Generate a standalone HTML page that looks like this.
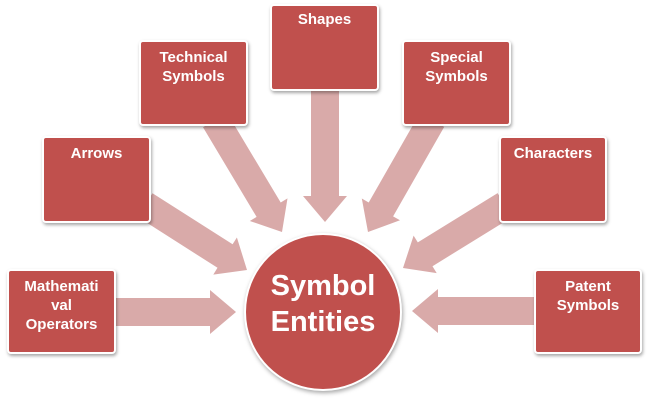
<!DOCTYPE html>
<html><head><meta charset="utf-8"><style>
body{margin:0;width:650px;height:402px;background:#fff;overflow:hidden;position:relative;font-family:"Liberation Sans",sans-serif}
.b{position:absolute;background:#c0504d;border:2px solid #fff;border-radius:4px;box-shadow:1px 2px 3px rgba(0,0,0,.35);color:#fff;font-weight:bold;font-size:15px;text-align:center;line-height:19px;box-sizing:border-box;padding-top:6px}
svg{position:absolute;left:0;top:0}
.c{position:absolute;left:244px;top:233px;width:158px;height:158px;border-radius:50%;background:#c0504d;border:2px solid #fff;box-shadow:1px 2px 4px rgba(0,0,0,.35);box-sizing:border-box;color:#fff;font-weight:bold;font-size:29px;line-height:36px;text-align:center;padding-top:33px}
</style></head><body>
<svg id="s" width="650" height="402"></svg>
<div class="b" style="left:7px;top:269px;width:109px;height:85px">Mathemati<br>val<br>Operators</div>
<div class="b" style="left:42px;top:136px;width:109px;height:87px">Arrows</div>
<div class="b" style="left:139px;top:40px;width:109px;height:86px">Technical<br>Symbols</div>
<div class="b" style="left:270px;top:4px;width:109px;height:87px;padding-top:4px">Shapes</div>
<div class="b" style="left:402px;top:40px;width:109px;height:86px">Special<br>Symbols</div>
<div class="b" style="left:499px;top:136px;width:108px;height:87px">Characters</div>
<div class="b" style="left:534px;top:269px;width:108px;height:85px">Patent<br>Symbols</div>
<div class="c">Symbol<br>Entities</div>
<script>
var A=[[116,312,236,312],[145,205,247,270],[215,120,282,232],[325,88,325,222],[432,120,368,232],[505,205,403,268],[534,311,412,311]];
var h='';
A.forEach(function(a){var x0=a[0],y0=a[1],x1=a[2],y1=a[3],dx=x1-x0,dy=y1-y0,L=Math.hypot(dx,dy),ux=dx/L,uy=dy/L,px=-uy,py=ux,w=14,hw=22,hl=26;
var bx=x1-ux*hl,by=y1-uy*hl;
var p=[[x0+px*w,y0+py*w],[bx+px*w,by+py*w],[bx+px*hw,by+py*hw],[x1,y1],[bx-px*hw,by-py*hw],[bx-px*w,by-py*w],[x0-px*w,y0-py*w]];
h+='<polygon fill="#d9aaa9" points="'+p.map(function(q){return q[0].toFixed(1)+','+q[1].toFixed(1)}).join(' ')+'"/>';});
document.getElementById('s').innerHTML=h;
</script>
</body></html>
